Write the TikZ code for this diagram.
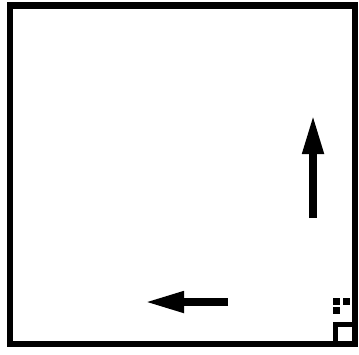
\documentclass[tikz,border=0pt]{standalone}
\usepackage{tikz}
\usetikzlibrary{arrows.meta}
\tikzset{
  frm/.style={draw=black,line width=.62mm},
  cel/.style={draw=black,line width=.5mm},
  dt/.style={rectangle,fill=black,minimum size=.72mm,inner sep=0pt},
  arw/.style={-{Triangle[length=3.9mm,width=2mm]},line width=.75mm,draw=black},
}
\begin{document}
\begin{tikzpicture}[x=.1mm,y=-.1mm]
\useasboundingbox (0,0) rectangle (359,354);
% ---- frame
\draw[frm] (10,5.5) rectangle (355,344);
% ---- corner cell
\draw[cel] (335.5,324.5) rectangle (355,344);
\node[dt] (d1) at (336.5,301.5) {};
\node[dt] (d2) at (346.5,301.5) {};
\node[dt] (d3) at (336.5,310.5) {};
% ---- arrows
\coordinate (ut) at (313,218); \coordinate (uh) at (313,115);
\coordinate (lt) at (228,302); \coordinate (lh) at (145,302);
\draw[arw] (ut) -- (uh);
\draw[arw] (lt) -- (lh);
\end{tikzpicture}
\end{document}
